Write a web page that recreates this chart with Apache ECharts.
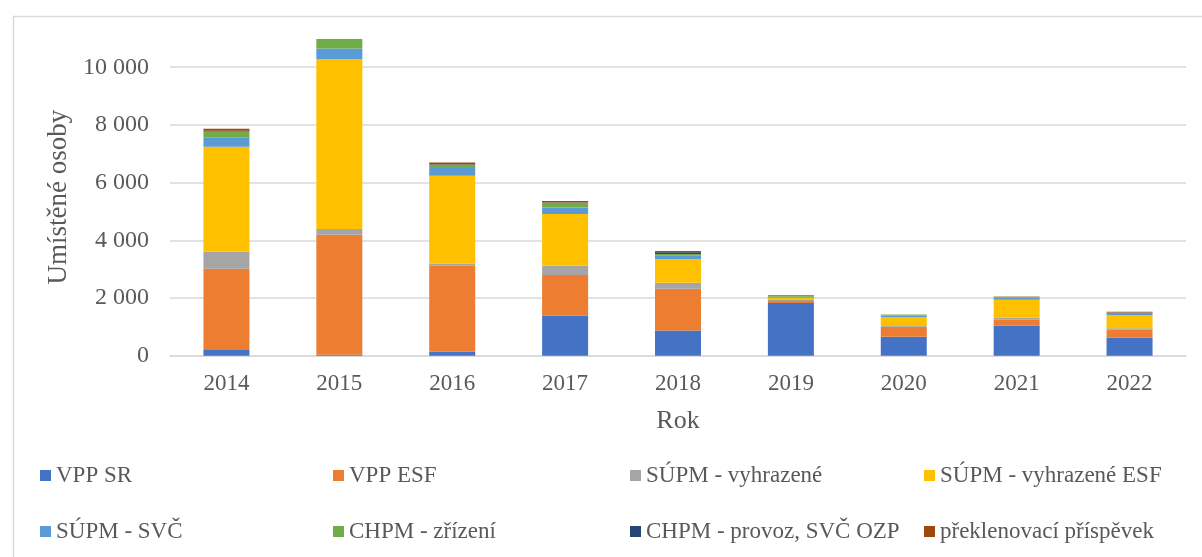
<!DOCTYPE html>
<html>
<head>
<meta charset="utf-8">
<script src="https://cdn.jsdelivr.net/npm/echarts@6/dist/echarts.min.js"></script>
<style>html,body{margin:0;padding:0;background:#fff}#c{width:1202px;height:557px}</style>
</head>
<body>
<div id="c"></div>
<script>
const categories = ['2014','2015','2016','2017','2018','2019','2020','2021','2022'];
const seriesNames = ['VPP SR','VPP ESF','SÚPM - vyhrazené','SÚPM - vyhrazené ESF','SÚPM - SVČ','CHPM - zřízení','CHPM - provoz, SVČ OZP','překlenovací příspěvek'];
const vppSR       = [200, 30, 140, 1390, 870, 1830, 660, 1040, 625];
const vppESF      = [2815, 4160, 2980, 1410, 1450, 70, 345, 210, 275];
const supmVyhr    = [590, 200, 70, 320, 210, 35, 50, 70, 50];
const supmVyhrESF = [3640, 5890, 3050, 1790, 810, 70, 290, 620, 460];
const supmSVC     = [325, 370, 300, 230, 125, 35, 45, 70, 80];
const chpmZrizeni = [200, 330, 80, 160, 60, 60, 35, 35, 10];
const chpmProvoz  = [25, 0, 20, 10, 60, 0, 0, 0, 0];
const preklenovaci= [70, 0, 60, 50, 45, 0, 0, 10, 20];
const yTicks = [0, 2000, 4000, 6000, 8000, 10000];

const allData = [vppSR, vppESF, supmVyhr, supmVyhrESF, supmSVC, chpmZrizeni, chpmProvoz, preklenovaci];
const colors = ['#4472C4','#ED7D31','#A5A5A5','#FFC000','#5B9BD5','#70AD47','#264478','#9E480E'];
const FONT = '"Liberation Serif", "DejaVu Serif", serif';
const TXT = '#595959';

const legendPos = [
  [40, 464], [333, 464], [630, 464], [924, 464],
  [40, 520], [333, 520], [630, 520], [924, 520]
];

const option = {
  animation: false,
  color: colors,
  graphic: [{
    type: 'rect', left: 11, top: 14, z: -1,
    shape: { width: 1200, height: 560 },
    style: { fill: 'none', stroke: '#d9d9d9', lineWidth: 1.5 }
  }],
  legend: seriesNames.map((n, i) => ({
    data: [n], left: legendPos[i][0], top: legendPos[i][1], padding: 0,
    icon: 'rect', itemWidth: 11, itemHeight: 11, itemGap: 0,
    textStyle: { fontFamily: FONT, fontSize: 23, color: TXT },
    selectedMode: false
  })),
  grid: { left: 170, right: 16, top: 38.4, bottom: 201.3, containLabel: false },
  xAxis: {
    type: 'category', data: categories,
    name: 'Rok', nameLocation: 'middle', nameGap: 52,
    nameTextStyle: { fontFamily: FONT, fontSize: 26, color: TXT },
    axisLine: { show: true, lineStyle: { color: '#d9d9d9', width: 1.5 } },
    axisTick: { show: false },
    axisLabel: { fontFamily: FONT, fontSize: 23, color: TXT, margin: 17 }
  },
  yAxis: {
    type: 'value', min: 0, max: 11000, interval: 2000,
    name: 'Umístěné osoby', nameLocation: 'middle', nameGap: 95, nameRotate: 90,
    nameTextStyle: { fontFamily: FONT, fontSize: 27, color: TXT },
    axisLine: { show: false }, axisTick: { show: false },
    axisLabel: {
      fontFamily: FONT, fontSize: 24, color: TXT, margin: 21, showMaxLabel: false,
      formatter: v => yTicks.includes(v) ? String(v).replace(/\B(?=(\d{3})+(?!\d))/g, ' ') : ''
    },
    splitLine: { show: true, showMaxLine: false, lineStyle: { color: '#d9d9d9', width: 1.5 } }
  },
  series: seriesNames.map((n, i) => ({
    name: n, type: 'bar', stack: 'total', data: allData[i],
    barWidth: 46,
    itemStyle: { color: colors[i] }
  }))
};

const chart = echarts.init(document.getElementById('c'), null, { renderer: 'canvas' });
chart.setOption(option);
</script>
</body>
</html>
